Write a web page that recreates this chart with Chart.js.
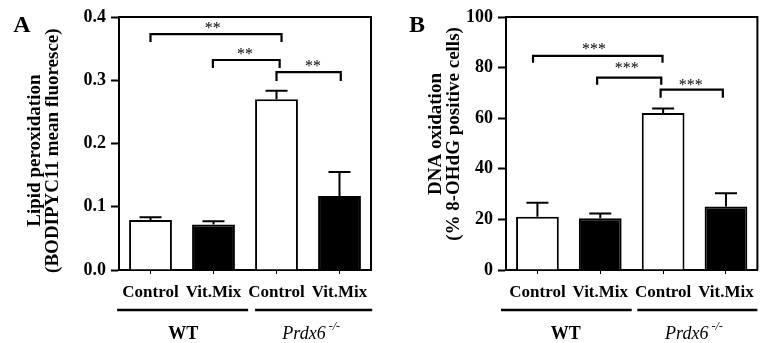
<!DOCTYPE html>
<html>
<head>
<meta charset="utf-8">
<script src="https://cdn.jsdelivr.net/npm/chart.js@4.4.1/dist/chart.umd.min.js"></script>
<style>
  body { margin: 0; background: #fff; }
  canvas { position: absolute; top: 0; }
  #lipid { left: 0; }
  #dna { left: 381px; }
</style>
</head>
<body>
<canvas id="lipid" width="381" height="343"></canvas>
<canvas id="dna" width="381" height="343"></canvas>
<script>
"use strict"

// data
const categories = ['Control', 'Vit.Mix', 'Control', 'Vit.Mix'];
const barColors = ['#ffffff', '#000000', '#ffffff', '#000000'];
const groups = ['WT', 'Prdx6'];

const lipidMeans = [0.079, 0.072, 0.270, 0.117];
const lipidErrors = [0.0045, 0.005, 0.0135, 0.038];
const lipidTicks = [0, 0.1, 0.2, 0.3, 0.4];

const dnaMeans = [21.0, 20.5, 62.1, 25.1];
const dnaErrors = [5.6, 1.8, 1.7, 5.2];
const dnaTicks = [0, 20, 40, 60, 80, 100];

// significance brackets: [from, to] in category index, bar height, leg end
const lipidBrackets = [
  { from: 0, to: 2.08, y: 0.373, leg: 0.3605, text: '**', tx: 0.99, ty: 0.387 },
  { from: 0.99, to: 2.05, y: 0.332, leg: 0.3194, text: '**', tx: 1.5, ty: 0.346 },
  { from: 2.0, to: 3.02, y: 0.313, leg: 0.2988, text: '**', tx: 2.58, ty: 0.327 }
];
const dnaBrackets = [
  { from: -0.07, to: 1.99, y: 84.6, leg: 81.9, text: '***', tx: 0.9, ty: 88.6 },
  { from: 0.95, to: 1.97, y: 76, leg: 73.2, text: '***', tx: 1.42, ty: 81.1 },
  { from: 1.96, to: 2.95, y: 71.3, leg: 68.1, text: '***', tx: 2.44, ty: 74.4 }
];

const serif = 'Liberation Serif';

// error bars, brackets, group lines, frame and panel letter
function extras(cfg) {
  return {
    id: 'extras',
    afterDatasetsDraw(chart) {
      const ctx = chart.ctx;
      const x = chart.scales.x;
      const y = chart.scales.y;
      const area = chart.chartArea;
      ctx.save();
      ctx.strokeStyle = '#000';
      ctx.fillStyle = '#000';

      // frame top + right
      ctx.lineWidth = 2;
      ctx.beginPath();
      ctx.moveTo(area.left, area.top);
      ctx.lineTo(area.right, area.top);
      ctx.lineTo(area.right, area.bottom);
      ctx.stroke();

      // error bars (upper only)
      cfg.means.forEach((m, i) => {
        const px = x.getPixelForValue(i);
        const top = y.getPixelForValue(m + cfg.errors[i]);
        ctx.beginPath();
        ctx.moveTo(px, y.getPixelForValue(m));
        ctx.lineTo(px, top);
        ctx.moveTo(px - 11, top);
        ctx.lineTo(px + 11, top);
        ctx.stroke();
      });

      // brackets
      ctx.lineWidth = 2.2;
      ctx.font = '16px ' + serif;
      ctx.textAlign = 'center';
      ctx.textBaseline = 'middle';
      cfg.brackets.forEach(b => {
        const x1 = x.getPixelForValue(b.from);
        const x2 = x.getPixelForValue(b.to);
        const yb = y.getPixelForValue(b.y);
        const yl = y.getPixelForValue(b.leg);
        ctx.beginPath();
        ctx.moveTo(x1, yl);
        ctx.lineTo(x1, yb);
        ctx.lineTo(x2, yb);
        ctx.lineTo(x2, yl);
        ctx.stroke();
        ctx.fillText(b.text, x.getPixelForValue(b.tx), y.getPixelForValue(b.ty) + 4);
      });

      // group lines under the category labels
      ctx.lineWidth = 2.5;
      cfg.groupLines.forEach(g => {
        ctx.beginPath();
        ctx.moveTo(x.getPixelForValue(g[0]), area.bottom + 40);
        ctx.lineTo(x.getPixelForValue(g[1]), area.bottom + 40);
        ctx.stroke();
      });
      const ly = area.bottom + 64;
      ctx.font = 'bold 18px ' + serif;
      ctx.fillText(groups[0], x.getPixelForValue(cfg.groupLabelAt[0]), ly);
      const cx = x.getPixelForValue(cfg.groupLabelAt[1]);
      ctx.font = 'italic 18px ' + serif;
      const w1 = ctx.measureText(groups[1]).width;
      ctx.font = 'italic 12px ' + serif;
      const w2 = ctx.measureText(' -/-').width;
      const start = cx - (w1 + w2) / 2;
      ctx.textAlign = 'left';
      ctx.font = 'italic 18px ' + serif;
      ctx.fillText(groups[1], start, ly);
      ctx.font = 'italic 12px ' + serif;
      ctx.fillText(' -/-', start + w1, ly - 7);

      // panel letter
      ctx.font = 'bold 24px ' + serif;
      ctx.textAlign = 'center';
      ctx.fillText(cfg.letter, cfg.letterX, 26);
      ctx.restore();
    }
  };
}

function buildChart(id, means, ticks, yTitle, cfg) {
  new Chart(document.getElementById(id), {
    type: 'bar',
    data: {
      labels: categories,
      datasets: [{
        data: means,
        backgroundColor: barColors,
        borderColor: '#000',
        borderWidth: 2,
        barPercentage: 0.68,
        categoryPercentage: 1
      }]
    },
    options: {
      responsive: false,
      animation: false,
      devicePixelRatio: 1,
      layout: { padding: { top: 17, right: cfg.padRight, left: 0, bottom: 0 } },
      plugins: { legend: { display: false }, tooltip: { enabled: false } },
      scales: {
        x: {
          grid: { drawOnChartArea: false, offset: false, tickLength: 4, color: '#000', tickWidth: 1 },
          border: { color: '#000', width: 2 },
          ticks: {
            color: '#000', padding: 8, autoSkip: false, maxRotation: 0, minRotation: 0,
            font: { family: serif, size: 17, weight: 'bold' }
          },
          afterFit(scale) { scale.height = 73; }
        },
        y: {
          min: ticks[0],
          max: ticks[ticks.length - 1],
          afterBuildTicks(scale) { scale.ticks = ticks.map(v => ({ value: v })); },
          grid: { drawOnChartArea: false, tickLength: 8, color: '#000', tickWidth: 2 },
          border: { color: '#000', width: 2 },
          ticks: {
            color: '#000',
            padding: cfg.tickPad,
            font: { family: serif, size: 18, weight: 'bold' },
            callback: v => cfg.decimals ? v.toFixed(cfg.decimals) : String(v)
          },
          title: {
            display: true,
            text: yTitle,
            color: '#000',
            padding: { top: cfg.titlePad, bottom: 0 },
            font: { family: serif, size: 19, weight: 'bold', lineHeight: 0.95 }
          },
          afterFit(scale) { scale.width = cfg.axisWidth; }
        }
      }
    },
    plugins: [extras(cfg)]
  });
}

// padding spaces nudge the rotated titles along the axis like in the figure
buildChart('lipid', lipidMeans, lipidTicks,
  ['Lipid peroxidation   ', '(BODIPYC11 mean fluoresce)   '], {
    means: lipidMeans, errors: lipidErrors, brackets: lipidBrackets,
    groupLines: [[-0.53, 1.55], [1.66, 3.52]], groupLabelAt: [0.52, 2.55],
    letter: 'A', letterX: 22, decimals: 1,
    axisWidth: 119, padRight: 10, tickPad: 5, titlePad: 26
  });

buildChart('dna', dnaMeans, dnaTicks,
  ['    DNA oxidation', '    (% 8-OHdG positive cells)'], {
    means: dnaMeans, errors: dnaErrors, brackets: dnaBrackets,
    groupLines: [[-0.58, 1.5], [1.59, 3.5]], groupLabelAt: [0.45, 2.49],
    letter: 'B', letterX: 36, decimals: 0,
    axisWidth: 125, padRight: 2, tickPad: 5, titlePad: 46
  });
</script>
</body>
</html>
